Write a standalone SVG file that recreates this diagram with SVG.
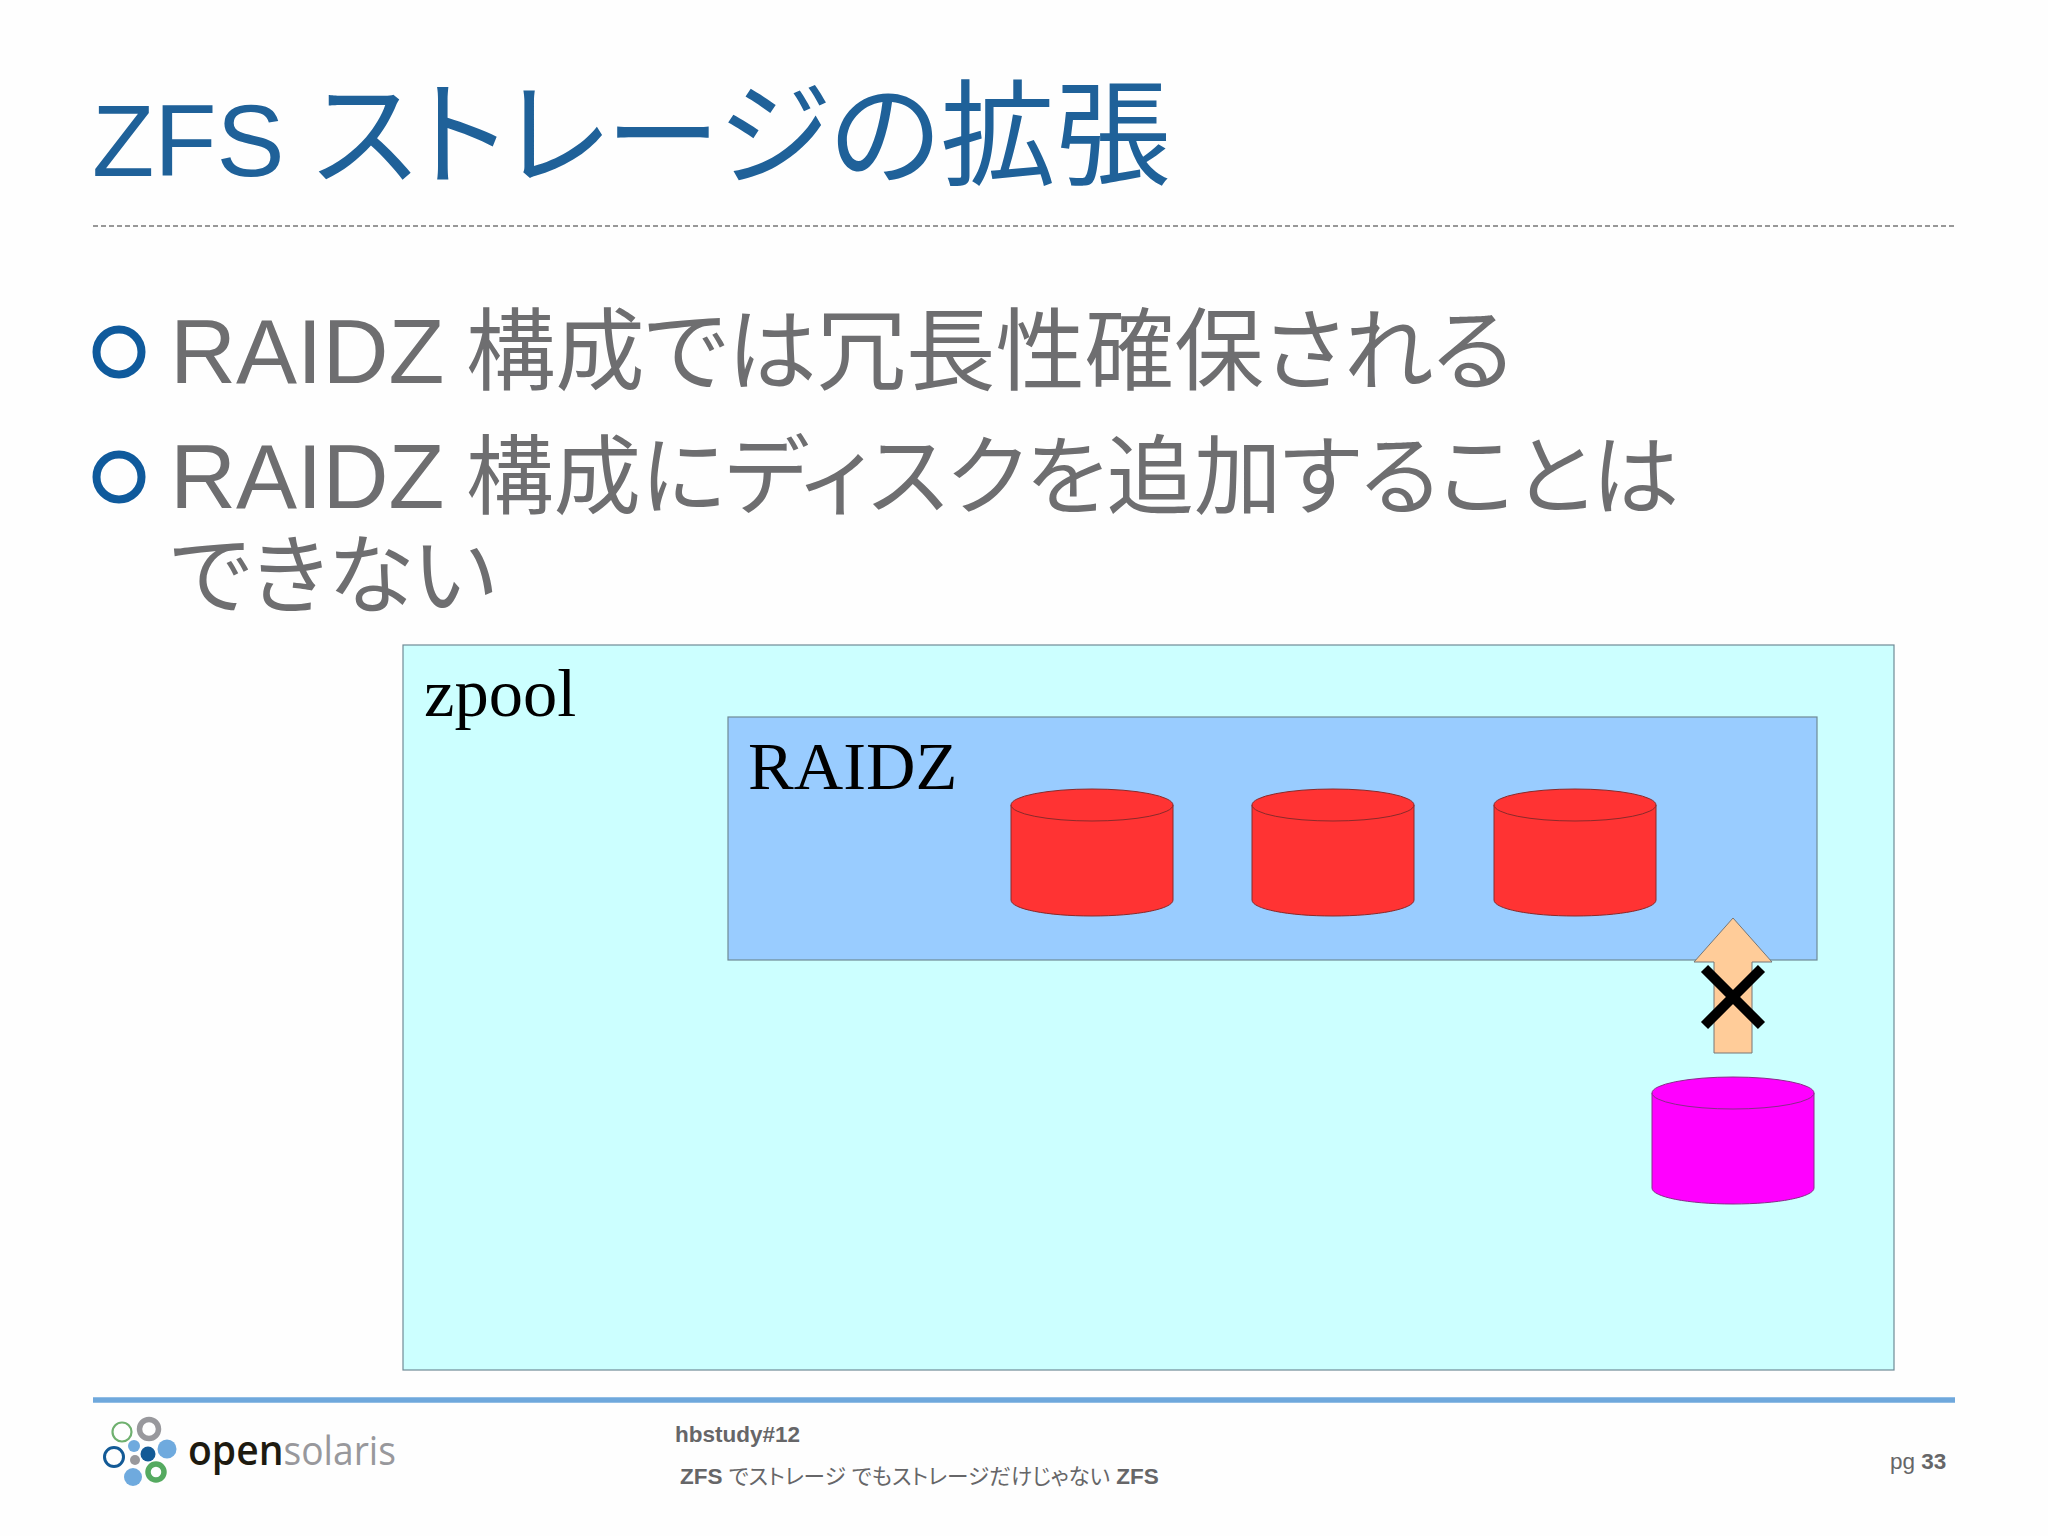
<svg xmlns="http://www.w3.org/2000/svg" width="2048" height="1536" viewBox="0 0 2048 1536">
<defs>
<style>
.sans{font-family:"Liberation Sans","Noto Sans CJK JP",sans-serif;font-feature-settings:"palt"}
.title{font-size:102px;fill:#1f6199}
.title-cjk{font-size:115px}
.body{font-size:91.5px;fill:#6e6e70}
.cjk1{font-size:89.4px}
.cjk2{font-size:87.5px}
.serif{font-family:"Liberation Serif",serif;font-size:68.5px;fill:#000}
.foot{font-size:22.5px;fill:#666668;font-weight:bold}
.foot-cjk{font-weight:normal;font-size:21.6px}
.box{stroke:#6f8a96;stroke-width:1.2}
.bullet{fill:none;stroke:#0f5a9c;stroke-width:8}
</style>
<g id="cyl">
<path d="M0 16V111C0 120 36 127 81 127S162 120 162 111V16Z"/>
<ellipse cx="81" cy="16" rx="81" ry="16"/>
</g>
</defs>
<rect width="2048" height="1536" fill="#fefefe"/>
<text id="title" class="sans title" x="92" y="176">ZFS <tspan class="title-cjk">ストレージの拡張</tspan></text>
<line x1="93" y1="226" x2="1955" y2="226" stroke="#777" stroke-width="1.5" stroke-dasharray="5 3"/>
<g id="bullet-1"><circle class="bullet" cx="119" cy="352" r="22.5"/><text class="sans body" x="170" y="383">RAIDZ <tspan class="cjk1" dx="-4">構成では冗長性確保される</tspan></text></g>
<g id="bullet-2"><circle class="bullet" cx="119" cy="477" r="22.5"/><text class="sans body" x="170" y="508">RAIDZ <tspan class="cjk2" dx="-4">構成にディスクを追加することは</tspan></text><text class="sans body cjk2" x="170" y="607">できない</text></g>
<g id="zpool"><rect class="box" x="403" y="645" width="1491" height="725" fill="#ccffff"/><text class="serif" x="424" y="716">zpool</text></g>
<g id="raidz"><rect class="box" x="728" y="717" width="1089" height="243" fill="#99ccff"/><text class="serif" x="748" y="789">RAIDZ</text></g>
<g id="disk-1" fill="#ff3333" stroke="#8a2a2a" stroke-width="1"><use href="#cyl" x="1011" y="789"/></g>
<g id="disk-2" fill="#ff3333" stroke="#8a2a2a" stroke-width="1"><use href="#cyl" x="1252" y="789"/></g>
<g id="disk-3" fill="#ff3333" stroke="#8a2a2a" stroke-width="1"><use href="#cyl" x="1494" y="789"/></g>
<g id="disk-new" fill="#ff00ff" stroke="#8a2a8a" stroke-width="1"><use href="#cyl" x="1652" y="1077"/></g>
<g id="connectors">
<path d="M1733 918L1772 962H1752V1053H1714V962H1694Z" fill="#ffcc99" stroke="#777" stroke-width="1"/>
<path d="M1704.5 968.5L1761.5 1025.5M1761.5 968.5L1704.5 1025.5" stroke="#000" stroke-width="10" fill="none"/>
</g>
<line x1="93" y1="1400" x2="1955" y2="1400" stroke="#6fa8dc" stroke-width="5.5"/>
<g id="logo">
<circle cx="122" cy="1432" r="9.5" fill="none" stroke="#6fb06f" stroke-width="2.2"/>
<circle cx="149" cy="1429" r="9.5" fill="none" stroke="#98989c" stroke-width="5.5"/>
<circle cx="167" cy="1449" r="9.5" fill="#6faade"/>
<circle cx="114" cy="1457" r="9.5" fill="none" stroke="#135a96" stroke-width="3"/>
<circle cx="134" cy="1446" r="6" fill="#6faade"/>
<circle cx="148" cy="1454" r="7.5" fill="#135a96"/>
<circle cx="135" cy="1460" r="5" fill="#98989c"/>
<circle cx="133" cy="1477" r="9" fill="#6faade"/>
<circle cx="156" cy="1472" r="8" fill="none" stroke="#55aa60" stroke-width="5.5"/>
<text x="188" y="1465" font-family="Open Sans,sans-serif" font-size="42" font-weight="600" fill="#1d1a10" textLength="208" lengthAdjust="spacingAndGlyphs">open<tspan fill="#98989c" font-size="40" font-weight="400">solaris</tspan></text>
</g>
<g id="footer">
<text class="sans foot" x="675" y="1442">hbstudy#12</text>
<text class="sans foot" x="680" y="1484">ZFS <tspan class="foot-cjk">でストレージ でもストレージだけじゃない</tspan> ZFS</text>
<text class="sans foot" x="1890" y="1469"><tspan font-weight="normal">pg</tspan> 33</text>
</g>
</svg>
